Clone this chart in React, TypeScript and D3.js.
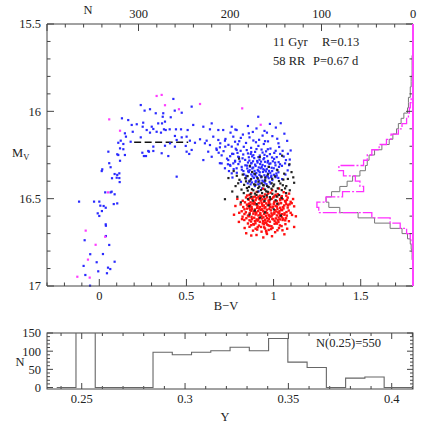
import * as d3 from 'd3';

type P = [number, number];

// ---- scatter: [B-V, M_V] ----
const branchBlue: P[] = [
  [0.052,16.231],[0.103,16.246],[0.147,16.250],[0.247,16.237],[0.268,16.256],[0.285,16.231],[0.119,16.283],
  [0.057,16.297],[0.065,16.320],[0.017,16.332],[0.014,16.342],[0.088,16.359],[0.103,16.364],[0.115,16.355],
  [0.073,16.383],[0.115,16.382],[0.117,16.405],[0.071,16.460],[0.065,16.464],[0.034,16.464],[0.088,16.475],
  [-0.116,16.517],[-0.030,16.517],[0.000,16.517],[0.006,16.540],[0.025,16.542],[0.037,16.552],[0.083,16.531],
  [0.103,16.527],[0.015,16.571],[-0.009,16.584],[0.000,16.599],[0.037,16.647],[0.038,16.655],[-0.084,16.738],
  [0.038,16.714],[0.057,16.765],[0.021,16.817],[-0.052,16.818],[-0.015,16.864],[0.088,16.861],[-0.090,16.885],
  [0.050,16.895],[0.063,16.903],[-0.006,16.916],[0.044,16.927],[-0.080,16.937],[-0.053,16.998],
  [0.238,15.964],[0.260,15.996],[0.291,15.988],[0.324,16.011],[0.367,16.011],[0.364,16.031],[0.425,15.929],
  [0.433,15.996],[0.473,16.008],[0.410,16.034],[0.530,15.973],[0.166,16.050],[0.130,16.040],[0.186,16.078],
  [0.215,16.074],[0.252,16.065],[0.249,16.088],[0.301,16.088],[0.310,16.101],[0.272,16.107],[0.338,16.069],
  [0.360,16.069],[0.371,16.103],[0.381,16.107],[0.404,16.103],[0.440,16.103],[0.469,16.103],[0.377,16.059],
  [0.192,16.117],[0.153,16.145],[0.147,16.126],[0.238,16.149],[0.291,16.122],[0.329,16.117],[0.354,16.122],
  [0.434,16.141],[0.473,16.149],[0.501,16.145],[0.539,16.078],[0.507,16.107],[0.109,16.180],[0.123,16.168],
  [0.138,16.187],[0.180,16.174],[0.119,16.212],[0.138,16.217],[0.109,16.250],[0.281,16.227],[0.310,16.227],
  [0.256,16.256],[0.358,16.240],[0.396,16.256],[0.310,16.202],[0.377,16.197],[0.406,16.183],[0.444,16.164],
  [0.434,16.202],[0.496,16.198],[0.520,16.168],[0.530,16.221],[0.516,16.244],[0.549,16.180],[0.578,16.160],
  [0.501,16.231],[0.444,16.374],[0.100,16.380],[0.597,16.088],[0.635,16.103],[0.645,16.069],[0.683,16.107],
  [0.711,16.107],[0.654,16.145],[0.683,16.164],[0.721,16.168],[0.616,16.168],[0.606,16.183],[0.635,16.193],
  [0.674,16.221],[0.692,16.206],[0.625,16.231],[0.597,16.279],[0.645,16.260],[0.692,16.297],[0.740,16.279],
  [0.721,16.326],[0.750,16.307],[0.760,16.088],[0.788,16.107],[0.769,16.145],[0.779,16.174],[0.760,16.202],
  [0.788,16.221],[0.769,16.244],[0.797,16.260],[0.779,16.288],[0.788,16.326],[0.760,16.355],
];

const clumpBlue: P[] = [
  [0.912,16.031],[0.979,16.072],[0.853,16.084],[1.013,16.093],[0.781,16.104],[0.902,16.098],[1.041,16.068],
  [0.753,16.122],[0.824,16.133],[0.881,16.118],[0.948,16.112],[0.993,16.142],[1.062,16.128],[0.724,16.158],
  [0.803,16.171],[0.862,16.149],[0.917,16.163],[0.968,16.172],[1.021,16.157],[0.694,16.183],[0.842,16.181],
  [0.899,16.177],[1.078,16.169],[0.741,16.192],[0.783,16.214],[0.829,16.203],[0.871,16.209],[0.913,16.198],
  [0.944,16.187],[0.982,16.213],[1.032,16.204],[0.713,16.228],[0.762,16.243],[0.811,16.226],[0.853,16.241],
  [0.894,16.232],[0.921,16.253],[0.957,16.229],[1.004,16.238],[1.052,16.226],[0.801,16.262],[0.877,16.258],
  [0.931,16.219],[0.991,16.264],[1.098,16.224],[0.672,16.213],[0.733,16.271],[0.779,16.283],[0.822,16.269],
  [0.861,16.282],[0.889,16.268],[0.908,16.293],[0.942,16.274],[0.968,16.284],[1.003,16.272],[1.029,16.291],
  [1.071,16.279],[0.752,16.312],[0.798,16.302],[0.838,16.309],[0.872,16.298],[0.897,16.313],[0.923,16.302],
  [0.951,16.314],[0.982,16.298],[1.011,16.309],[1.048,16.312],[0.771,16.331],[0.818,16.334],[0.849,16.327],
  [0.883,16.322],[0.909,16.336],[0.932,16.318],[0.961,16.331],[0.989,16.323],[1.019,16.334],[0.702,16.298],
  [1.089,16.308],[0.858,16.263],[0.928,16.288],[0.963,16.257],[0.789,16.352],[0.831,16.361],[0.858,16.348],
  [0.879,16.372],[0.901,16.353],[0.919,16.364],[0.939,16.347],[0.962,16.369],[0.981,16.352],[1.002,16.363],
  [1.028,16.349],[0.842,16.384],[0.868,16.393],[0.887,16.381],[0.911,16.389],[0.929,16.378],[0.951,16.392],
  [0.972,16.383],[0.993,16.394],[1.012,16.377],[0.813,16.403],[0.852,16.412],[0.876,16.407],[0.898,16.398],
  [0.921,16.413],[0.942,16.402],[0.959,16.417],[0.978,16.404],[1.049,16.388],[0.764,16.379],[1.068,16.362],
  [0.893,16.428],[0.934,16.441],[0.968,16.432],[0.914,16.458],[0.873,16.296],[0.906,16.284],[0.937,16.307],
  [0.966,16.293],[0.996,16.286],[0.854,16.343],[0.887,16.357],[0.914,16.342],[0.947,16.366],[0.974,16.341],
  [1.016,16.356],[0.866,16.317],[0.926,16.326],[0.956,16.344],[0.987,16.368],[0.904,16.376],[0.936,16.397],
  [0.967,16.374],[0.826,16.247],[1.038,16.244],[0.948,16.249],[0.872,16.233],[1.081,16.338],[0.744,16.342],
  [0.846,16.222],[0.869,16.244],[0.902,16.216],[0.937,16.236],[0.967,16.217],[1.012,16.226],[0.884,16.251],
  [0.913,16.262],[0.946,16.268],[0.979,16.245],[1.018,16.262],[0.837,16.278],[0.853,16.293],[0.882,16.286],
  [0.919,16.277],[0.951,16.289],[0.976,16.301],[1.009,16.294],[1.037,16.303],[0.817,16.318],[0.848,16.311],
  [0.878,16.327],[0.894,16.305],[0.915,16.321],[0.941,16.331],[0.972,16.318],[1.001,16.326],[1.031,16.318],
  [0.827,16.342],[0.863,16.337],[0.891,16.341],[0.921,16.349],[0.948,16.337],[0.968,16.356],[0.992,16.342],
  [1.018,16.368],[0.843,16.369],[0.872,16.361],[0.896,16.367],[0.926,16.371],[0.953,16.378],[0.986,16.377],
  [1.027,16.381],[0.861,16.398],[0.897,16.406],[0.918,16.397],[0.949,16.408],[0.983,16.413],[0.912,16.418],
  [0.868,16.418],[0.723,16.202],[0.751,16.257],[0.793,16.238],[0.738,16.303],[0.769,16.298],[0.806,16.287],
  [1.058,16.259],[1.082,16.243],[1.066,16.298],[1.093,16.276],[0.812,16.152],[0.858,16.126],[0.937,16.139],
  [0.962,16.122],[1.028,16.183],[0.884,16.167],[0.951,16.171],[0.795,16.189],[0.702,16.252],[0.685,16.237],
];

const clumpBlack: P[] = [
  [0.802,16.271],[0.921,16.262],[1.049,16.254],[0.864,16.312],[1.091,16.303],[0.973,16.318],[0.771,16.342],
  [1.022,16.337],[0.823,16.362],[0.851,16.371],[0.893,16.358],[0.931,16.374],[0.968,16.361],[1.008,16.372],
  [1.061,16.357],[1.103,16.348],[0.804,16.392],[0.842,16.401],[0.871,16.388],[0.913,16.403],[0.952,16.397],
  [0.989,16.412],[1.031,16.399],[1.082,16.387],[0.831,16.421],[0.859,16.433],[0.888,16.418],[0.918,16.431],
  [0.941,16.422],[0.972,16.434],[1.003,16.419],[1.024,16.441],[1.053,16.423],[1.118,16.409],[0.782,16.428],
  [0.884,16.452],[0.912,16.439],[0.951,16.448],[0.988,16.443],[0.852,16.454],[0.741,16.382],[0.829,16.468],
  [0.868,16.473],[0.902,16.479],[0.934,16.468],[0.961,16.481],[0.993,16.472],[1.032,16.479],[1.072,16.468],
  [0.792,16.489],[0.853,16.502],[0.881,16.511],[0.923,16.498],[0.948,16.513],[0.982,16.503],[1.012,16.509],
  [1.047,16.497],[0.763,16.459],[0.812,16.521],[0.903,16.531],[0.972,16.538],[1.021,16.529],[0.861,16.543],
  [1.093,16.452],[0.721,16.503],[0.892,16.568],[0.951,16.579],[1.001,16.561],[0.923,16.608],[1.042,16.597],
  [0.862,16.591],[0.943,16.424],[0.908,16.461],[0.958,16.458],[1.066,16.441],[0.877,16.347],[1.113,16.378],
  [0.862,16.402],[0.896,16.421],[0.932,16.412],[0.963,16.427],[0.998,16.429],[1.039,16.413],[0.847,16.439],
  [0.876,16.446],[0.928,16.451],[0.967,16.461],[1.013,16.458],[1.047,16.451],[0.893,16.471],[0.946,16.489],
  [0.979,16.491],[1.017,16.487],[0.816,16.448],[0.872,16.489],[0.797,16.412],[1.073,16.428],[0.908,16.382],
  [0.953,16.379],[0.992,16.386],[1.056,16.391],[0.789,16.369],[0.838,16.383],
];

const clumpRed: P[] = [
  [0.941,16.443],[0.992,16.451],[1.031,16.442],[0.903,16.462],[0.968,16.471],[1.058,16.463],[0.861,16.479],
  [0.922,16.483],[1.011,16.478],[1.089,16.471],[0.842,16.493],[0.878,16.502],[0.913,16.489],[0.937,16.504],
  [0.962,16.492],[0.989,16.501],[1.021,16.488],[1.052,16.503],[1.081,16.494],[0.823,16.512],[0.868,16.521],
  [0.897,16.508],[0.931,16.523],[0.971,16.511],[1.003,16.522],[1.038,16.509],[1.069,16.519],[1.112,16.502],
  [0.792,16.501],[0.811,16.533],[0.852,16.541],[0.879,16.528],[0.908,16.542],[0.934,16.531],[0.953,16.549],
  [0.981,16.533],[1.012,16.541],[1.029,16.528],[1.061,16.539],[1.092,16.532],[1.118,16.544],[0.833,16.561],
  [0.862,16.553],[0.893,16.562],[0.918,16.557],[0.962,16.563],[0.993,16.551],[1.022,16.558],[1.049,16.566],
  [1.081,16.551],[0.781,16.542],[0.941,16.572],[0.803,16.581],[0.841,16.578],[0.872,16.569],[0.901,16.583],
  [0.923,16.591],[0.949,16.578],[0.972,16.593],[1.004,16.579],[1.033,16.584],[1.062,16.592],[1.098,16.581],
  [0.822,16.603],[0.858,16.601],[0.889,16.609],[0.931,16.598],[0.962,16.611],[0.988,16.602],[1.013,16.613],
  [1.041,16.599],[1.072,16.612],[1.128,16.601],[0.773,16.592],[0.832,16.622],[0.871,16.631],[0.903,16.619],
  [0.921,16.633],[0.951,16.621],[0.979,16.632],[0.998,16.618],[1.028,16.634],[1.052,16.622],[1.088,16.629],
  [0.853,16.642],[0.887,16.648],[0.938,16.641],[0.969,16.652],[1.019,16.643],[1.068,16.646],[0.801,16.633],
  [0.862,16.661],[0.909,16.663],[0.951,16.671],[0.988,16.658],[1.031,16.668],[0.882,16.683],[0.931,16.689],
  [0.972,16.679],[1.009,16.692],[1.051,16.681],[0.843,16.698],[0.962,16.702],[1.118,16.662],[0.902,16.708],
  [0.991,16.715],[0.941,16.722],[0.872,16.711],[1.062,16.704],
  [0.857,16.506],[0.886,16.517],[0.918,16.503],[0.946,16.518],[0.977,16.507],[1.006,16.516],[1.037,16.502],
  [1.066,16.513],[0.847,16.534],[0.874,16.547],[0.903,16.536],[0.936,16.543],[0.966,16.537],[0.997,16.546],
  [1.027,16.533],[1.054,16.548],[1.083,16.538],[0.866,16.566],[0.897,16.577],[0.927,16.564],[0.956,16.576],
  [0.984,16.567],[1.016,16.573],[1.043,16.563],[1.074,16.577],[0.853,16.597],[0.884,16.586],[0.913,16.596],
  [0.946,16.588],[0.976,16.597],[1.004,16.586],[1.036,16.596],[1.063,16.584],[0.876,16.617],[0.907,16.626],
  [0.934,16.613],[0.966,16.627],[0.993,16.616],[1.024,16.623],[1.056,16.614],[0.884,16.646],[0.916,16.654],
  [0.944,16.647],[0.977,16.656],[1.006,16.644],[1.036,16.653],[0.906,16.677],[0.957,16.684],[0.986,16.674],
  [0.928,16.492],[0.958,16.527],[0.988,16.584],[0.917,16.612],[1.047,16.607],[0.952,16.636],[0.892,16.524],
  [0.872,16.468],[0.951,16.476],[0.983,16.466],[1.024,16.474],[1.047,16.486],[0.893,16.488],[0.936,16.485],
  [1.003,16.487],[1.073,16.483],[0.848,16.482],[0.864,16.496],[0.902,16.497],[0.926,16.511],[0.952,16.503],
  [0.975,16.519],[0.998,16.493],[1.019,16.514],[1.044,16.494],[1.077,16.507],[1.098,16.518],[0.836,16.521],
  [0.884,16.491],[0.859,16.529],[0.889,16.532],[0.915,16.526],[0.944,16.539],[0.973,16.524],[1.001,16.531],
  [1.019,16.546],[1.043,16.526],[1.073,16.531],[1.104,16.526],[0.826,16.548],[0.866,16.537],[0.921,16.548],
  [0.981,16.547],[1.038,16.552],[0.848,16.557],[0.876,16.559],[0.906,16.553],[0.934,16.561],[0.948,16.555],
  [0.976,16.558],[1.007,16.566],[1.034,16.571],[1.057,16.556],[1.087,16.568],[0.817,16.572],[0.886,16.573],
  [0.912,16.571],[0.963,16.582],[1.026,16.579],[0.833,16.588],[0.863,16.583],[0.897,16.591],[0.924,16.582],
  [0.957,16.598],[0.993,16.592],[1.019,16.596],[1.048,16.589],[1.076,16.597],[1.106,16.593],[0.874,16.604],
  [0.942,16.607],[0.978,16.603],[1.029,16.608],[0.844,16.612],[0.862,16.624],[0.893,16.628],[0.911,16.621],
  [0.939,16.629],[0.973,16.617],[1.006,16.627],[1.037,16.619],[1.067,16.624],[0.819,16.617],[0.958,16.638],
  [1.014,16.637],[0.896,16.641],[0.872,16.652],[0.928,16.662],[0.962,16.648],[0.994,16.667],[1.046,16.657],
  [0.897,16.672],[0.946,16.664],[1.022,16.681],[0.959,16.693],[1.078,16.672],[0.834,16.668],
];

const magentaStars: P[] = [
  [0.050,16.464],[-0.078,16.683],[0.034,16.718],[-0.021,16.764],[-0.065,16.849],[-0.126,16.947],[-0.055,16.952],
  [0.329,15.912],[0.358,15.906],[0.377,15.965],[0.457,15.988],[0.578,15.958],[0.057,16.046],[0.119,16.111],
  [0.820,15.983],[0.926,16.077],
];

// HB level marker (dashed)
const hbLevel = 16.177;
const hbColour: [number, number] = [0.2, 0.51];

// ---- side histograms in M_V (bins of 0.03 mag from 15.5) ----
const mvStart = 15.5;
const mvBin = 0.03;
const grayCounts = [
  0,0,0,0,0,0,1,1,1,1,2,2,3,3,5,5,6,10,13,16,18,22,26,34,42,
  48,50,52,58,66,72,80,89,95,92,80,60,42,25,12,6,3,2,1,1,0,0,0,0,0,
];
const magentaCounts = [
  0,0,0,0,0,0,0,0,0,0,0,0,0,0,2,3,4,5,7,12,16,24,29,37,45,
  50,54,81,76,63,58,54,77,95,105,103,45,25,14,7,3,1,0,0,0,0,0,0,0,0,
];

// ---- Y histogram ----
const yStart = 0.2379;
const yBin = 0.00932;
const yCounts = [0,550,0,0,0,97,90,97,101,111,101,135,70,55,0,26,29,0,0];

const mainXTicks = d3.range(-3, 19).map(i => i / 10);
const mainXLabels = [0, 0.5, 1, 1.5];
const mainYTicks = d3.range(155, 171).map(i => i / 10);
const mainYLabels = [15.5, 16, 16.5, 17];
const nTicks = d3.range(0, 401, 20);
const nLabels = [300, 200, 100, 0];
const yHistXTicks = d3.range(24, 42).map(i => i / 100);
const yHistXLabels = [0.25, 0.3, 0.35, 0.4];
const yHistYTicks = d3.range(0, 151, 10);
const yHistYLabels = [0, 50, 100, 150];

const M = { l: 47, r: 413, t: 24, b: 286 };
const B = { l: 47, r: 413, t: 333, b: 389 };

const x = d3.scaleLinear().domain([-0.3, 1.8]).range([M.l, M.r]);
const y = d3.scaleLinear().domain([15.5, 17]).range([M.t, M.b]);
const xN = d3.scaleLinear().domain([400, 0]).range([M.l, M.r]);
const xY = d3.scaleLinear().domain([0.2332, 0.4103]).range([B.l, B.r]);
const yN = d3.scaleLinear().domain([-4, 150]).range([B.b, B.t]);

const font = { fontFamily: '"Liberation Serif", serif', fontSize: 12.5, fill: '#222' };
const AX = '#444';

function sideHist(counts: number[]) {
  const pts: P[] = [[0, mvStart]];
  counts.forEach((c, i) => {
    const a = mvStart + i * mvBin;
    pts.push([c, a], [c, a + mvBin]);
  });
  pts.push([0, mvStart + counts.length * mvBin]);
  return d3.line<P>().x(d => xN(d[0])).y(d => y(d[1]))(pts) || '';
}

function yHist() {
  const pts: P[] = [[yStart, 0]];
  yCounts.forEach((c, i) => {
    const a = yStart + i * yBin;
    pts.push([a, c], [a + yBin, c]);
  });
  return d3.line<P>().x(d => xY(d[0])).y(d => yN(d[1]))(pts) || '';
}

function Dots({ data, color, s = 2.2 }: { data: P[]; color: string; s?: number }) {
  return (
    <g fill={color}>
      {data.map((d, i) => (
        <rect key={i} x={x(d[0]) - s / 2} y={y(d[1]) - s / 2} width={s} height={s} />
      ))}
    </g>
  );
}

export default function App() {
  const ticks: JSX.Element[] = [];
  mainXTicks.forEach((v, i) => {
    const major = Math.abs(Math.round(v * 10) % 5) === 0;
    const len = major ? 7 : 3.5;
    ticks.push(<line key={'mx' + i} x1={x(v)} x2={x(v)} y1={M.b} y2={M.b - len} />);
  });
  nTicks.forEach((v, i) => {
    const len = v % 100 === 0 ? 7 : 3.5;
    ticks.push(<line key={'nt' + i} x1={xN(v)} x2={xN(v)} y1={M.t} y2={M.t + len} />);
  });
  mainYTicks.forEach((v, i) => {
    const len = Math.round(v * 10) % 5 === 0 ? 7 : 3.5;
    ticks.push(<line key={'myl' + i} x1={M.l} x2={M.l + len} y1={y(v)} y2={y(v)} />);
    ticks.push(<line key={'myr' + i} x1={M.r} x2={M.r - len} y1={y(v)} y2={y(v)} />);
  });
  yHistXTicks.forEach((v, i) => {
    const len = Math.round(v * 100) % 5 === 0 ? 6 : 3;
    ticks.push(<line key={'hxb' + i} x1={xY(v)} x2={xY(v)} y1={B.b} y2={B.b - len} />);
    ticks.push(<line key={'hxt' + i} x1={xY(v)} x2={xY(v)} y1={B.t} y2={B.t + len} />);
  });
  yHistYTicks.forEach((v, i) => {
    const len = v % 50 === 0 ? 6 : 3;
    ticks.push(<line key={'hyl' + i} x1={B.l} x2={B.l + len} y1={yN(v)} y2={yN(v)} />);
    ticks.push(<line key={'hyr' + i} x1={B.r} x2={B.r - len} y1={yN(v)} y2={yN(v)} />);
  });

  return (
    <svg width={436} height={436} style={{ position: 'absolute', left: 0, top: 0, background: '#fff' }}>
      <defs>
        <clipPath id="histClip">
          <rect x={B.l} y={B.t} width={B.r - B.l} height={B.b - B.t} />
        </clipPath>
      </defs>

      {/* main panel */}
      <line x1={x(hbColour[0])} x2={x(hbColour[1])} y1={y(hbLevel)} y2={y(hbLevel)}
        stroke="#111" strokeWidth={1.4} strokeDasharray="7 3.5" />
      <Dots data={branchBlue} color="#2a2aff" />
      <Dots data={clumpBlue} color="#2a2aff" />
      <Dots data={clumpRed} color="#ff1010" s={2.4} />
      <Dots data={clumpBlack} color="#222" />
      <Dots data={magentaStars} color="#ff3cff" />

      <path d={sideHist(grayCounts)} fill="none" stroke="#777" strokeWidth={1} />
      <path d={sideHist(magentaCounts)} fill="none" stroke="#ff30ff" strokeWidth={1.3} strokeDasharray="14 2 2 2" />

      <g stroke={AX} strokeWidth={1}>
        <line x1={M.l} x2={M.r} y1={M.t} y2={M.t} />
        <line x1={M.l} x2={M.r} y1={M.b} y2={M.b} />
        <line x1={M.l} x2={M.l} y1={M.t} y2={M.b} />
        <rect x={B.l} y={B.t} width={B.r - B.l} height={B.b - B.t} fill="none" />
        {ticks}
      </g>
      <line x1={M.r} x2={M.r} y1={M.t} y2={M.b} stroke="#ff44ff" strokeWidth={2} />

      {/* labels main */}
      <g {...font}>
        {mainYLabels.map(v => (
          <text key={v} x={41} y={y(v)} dy="0.35em" textAnchor="end">{v}</text>
        ))}
        {mainXLabels.map(v => (
          <text key={v} x={x(v)} y={300} textAnchor="middle">{v}</text>
        ))}
        {nLabels.map(v => (
          <text key={v} x={xN(v)} y={18} textAnchor="middle">{v}</text>
        ))}
        <text x={88} y={14} textAnchor="middle">N</text>
        <text x={226} y={310} textAnchor="middle">B−V</text>
        <text x={12} y={157}>M<tspan fontSize={8.5} dy={3}>V</tspan></text>
        <text x={273} y={46}>11 Gyr</text>
        <text x={322} y={46}>R=0.13</text>
        <text x={273} y={65}>58 RR</text>
        <text x={313} y={65}>P=0.67 d</text>
      </g>

      {/* Y histogram */}
      <path d={yHist()} fill="none" stroke="#666" strokeWidth={1.1} clipPath="url(#histClip)" />
      <g {...font}>
        {yHistYLabels.map(v => (
          <text key={v} x={41} y={yN(v)} dy="0.35em" textAnchor="end">{v}</text>
        ))}
        {yHistXLabels.map(v => (
          <text key={v} x={xY(v)} y={403} textAnchor="middle">{v}</text>
        ))}
        <text x={20} y={366} textAnchor="middle">N</text>
        <text x={225} y={421} textAnchor="middle">Y</text>
        <text x={316} y={347}>N(0.25)=550</text>
      </g>
    </svg>
  );
}
